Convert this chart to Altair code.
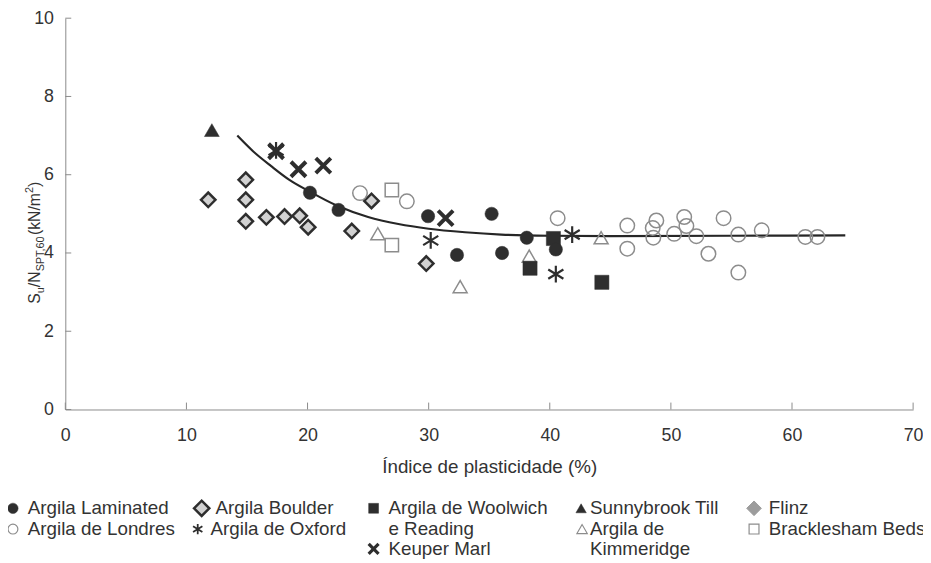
import altair as alt
import pandas as pd

# ---------------- data ----------------
SERIES = ["Argila Laminated", "Argila de Londres", "Argila Boulder", "Argila de Oxford",
          "Argila de Woolwich e Reading", "Keuper Marl", "Sunnybrook Till",
          "Argila de Kimmeridge", "Flinz", "Bracklesham Beds"]

lam_x = [20.2, 22.56, 29.95, 32.34, 35.2, 36.06, 38.1, 40.5]
lam_y = [5.54, 5.10, 4.94, 3.95, 5.00, 4.00, 4.39, 4.09]
lon_x = [24.33, 28.2, 40.65, 46.4, 46.4, 48.5, 48.8, 48.55, 50.27, 51.1, 51.28, 52.1,
         53.1, 54.35, 55.57, 55.57, 57.5, 61.1, 62.1]
lon_y = [5.53, 5.32, 4.89, 4.70, 4.11, 4.64, 4.83, 4.39, 4.49, 4.92, 4.69, 4.43,
         3.98, 4.89, 4.47, 3.50, 4.58, 4.41, 4.41]
bou_x = [11.8, 14.9, 14.9, 14.9, 16.6, 18.1, 19.35, 20.05, 23.65, 25.28, 29.8]
bou_y = [5.36, 5.87, 5.36, 4.81, 4.91, 4.93, 4.95, 4.66, 4.56, 5.33, 3.73]
oxf_x = [17.4, 30.17, 40.5, 41.85]
oxf_y = [6.62, 4.32, 3.46, 4.47]
woo_x = [38.37, 40.3, 44.3]
woo_y = [3.61, 4.37, 3.25]
keu_x = [17.4, 19.25, 21.3, 31.4]
keu_y = [6.60, 6.14, 6.23, 4.89]
sun_x = [12.1]
sun_y = [7.14]
kim_x = [25.8, 32.6, 38.3, 44.24]
kim_y = [4.49, 3.14, 3.92, 4.39]
fli_x = []
fli_y = []
bra_x = [26.96, 26.96]
bra_y = [5.61, 4.20]

trend_x = [14.2, 15.5, 17.0, 18.5, 20.0, 22.5, 25.0, 27.5, 30.0, 33.0, 36.0, 40.0, 45.0, 55.0, 64.4]
trend_y = [7.00, 6.60, 6.22, 5.87, 5.60, 5.20, 4.92, 4.74, 4.62, 4.53, 4.47, 4.44, 4.43, 4.44, 4.45]

XTICKS = [0, 10, 20, 30, 40, 50, 60, 70]
YTICKS = [0, 2, 4, 6, 8, 10]
X_TITLE = "Índice de plasticidade (%)"

SERIES_XY = {
    "Argila Laminated": (lam_x, lam_y),
    "Argila de Londres": (lon_x, lon_y),
    "Argila Boulder": (bou_x, bou_y),
    "Argila de Oxford": (oxf_x, oxf_y),
    "Argila de Woolwich e Reading": (woo_x, woo_y),
    "Keuper Marl": (keu_x, keu_y),
    "Sunnybrook Till": (sun_x, sun_y),
    "Argila de Kimmeridge": (kim_x, kim_y),
    "Flinz": (fli_x, fli_y),
    "Bracklesham Beds": (bra_x, bra_y),
}

# legend text lines per series
LEG_LINES = {
    "Argila Laminated": ["Argila Laminated"],
    "Argila de Londres": ["Argila de Londres"],
    "Argila Boulder": ["Argila Boulder"],
    "Argila de Oxford": ["Argila de Oxford"],
    "Argila de Woolwich e Reading": ["Argila de Woolwich", "e Reading"],
    "Keuper Marl": ["Keuper Marl"],
    "Sunnybrook Till": ["Sunnybrook Till"],
    "Argila de Kimmeridge": ["Argila de", "Kimmeridge"],
    "Flinz": ["Flinz"],
    "Bracklesham Beds": ["Bracklesham Beds"],
}

# ---------------- styles / layout ----------------
FONT = "Liberation Sans"
TXT = "#333333"
AXC = "#8a8a8a"
DARK = "#2e2e2e"
GRAY = "#8c8c8c"
LIGHT = "#d2d2d2"
FLINZ_C = "#9c9c9c"
XPATH = "M-1,-1L1,1M-1,1L1,-1"
ASTER = "M0,-1L0,1M-0.9,-0.55L0.9,0.55M-0.9,0.55L0.9,-0.55"

# shape, filled, fill, stroke, strokeWidth, plot size, legend size, legend strokeWidth
STYLE = {
    "Argila Laminated": ("circle", True, DARK, DARK, 0.5, 182, 110, 0.5),
    "Argila de Londres": ("circle", False, None, GRAY, 1.5, 215, 100, 1.2),
    "Argila Boulder": ("diamond", True, LIGHT, DARK, 2.5, 215, 240, 2.5),
    "Argila de Oxford": (ASTER, False, None, DARK, 2.2, 289, 110, 1.8),
    "Argila de Woolwich e Reading": ("square", True, DARK, DARK, 0.5, 205, 100, 0.5),
    "Keuper Marl": (XPATH, False, None, DARK, 4.0, 230, 100, 3.2),
    "Sunnybrook Till": ("triangle-up", True, DARK, DARK, 0.5, 225, 110, 0.5),
    "Argila de Kimmeridge": ("triangle-up", False, None, GRAY, 1.5, 200, 110, 1.2),
    "Flinz": ("diamond", True, FLINZ_C, FLINZ_C, 1.0, 215, 220, 1.0),
    "Bracklesham Beds": ("square", False, None, GRAY, 1.5, 182, 100, 1.2),
}

PLOT_W, PLOT_H = 858, 396
PAD = {"left": 58, "top": 7, "right": 10, "bottom": 150}
OX, OY = 8 + PAD["left"], 8 + PAD["top"]   # page position of plot origin

LEG_FS = 19
LEG_ROW_Y = [511, 532, 552]  # page y of legend rows
# series: (symbol page x, text page x, first row)
LEG_POS = {
    "Argila Laminated": (13, 28, 0),
    "Argila de Londres": (13, 28, 1),
    "Argila Boulder": (204, 218, 0),
    "Argila de Oxford": (200, 213, 1),
    "Argila de Woolwich e Reading": (378, 393, 0),
    "Keuper Marl": (378, 393, 2),
    "Sunnybrook Till": (588, 597, 0),
    "Argila de Kimmeridge": (589, 597, 1),
    "Flinz": (763, 778, 0),
    "Bracklesham Beds": (763, 778, 1),
}

XSCALE = alt.Scale(domain=[0, 70], nice=False, zero=False)
YSCALE = alt.Scale(domain=[0, 10], nice=False, zero=False)
XAXIS = alt.Axis(values=XTICKS, ticks=False, grid=False, domainColor=AXC, domainWidth=1,
                 labelFont=FONT, labelFontSize=18, labelColor=TXT, labelPadding=17,
                 labelFlush=False, title=X_TITLE, titleFont=FONT, titleFontSize=19,
                 titleFontWeight="normal", titleColor=TXT, titlePadding=14)
YAXIS = alt.Axis(values=YTICKS, ticks=False, grid=False, domainColor=AXC, domainWidth=1,
                 labelFont=FONT, labelFontSize=18, labelColor=TXT, labelPadding=12,
                 labelFlush=False, title=None)


def X(f):
    return alt.X(f"{f}:Q", scale=XSCALE, axis=XAXIS)


def Y(f):
    return alt.Y(f"{f}:Q", scale=YSCALE, axis=YAXIS)


def mark_kwargs(s, legend=False):
    shape, filled, fill, stroke, sw, size, lsize, lsw = STYLE[s]
    kw = dict(shape=shape, filled=filled, stroke=stroke, opacity=1,
              strokeWidth=lsw if legend else sw, size=lsize if legend else size)
    kw["fill"] = fill if filled else "transparent"
    return kw


layers = []

# trend line
trend_df = pd.DataFrame({"x": trend_x, "y": trend_y})
layers.append(alt.Chart(trend_df).mark_line(color="#262626", strokeWidth=2.2, interpolate="monotone")
              .encode(x=X("x"), y=Y("y")))

# inner ticks
layers.append(alt.Chart(pd.DataFrame({"t": XTICKS})).mark_rule(color=AXC, strokeWidth=1)
              .encode(x=X("t"), y=alt.value(PLOT_H), y2=alt.value(PLOT_H - 7)))
layers.append(alt.Chart(pd.DataFrame({"t": YTICKS})).mark_rule(color=AXC, strokeWidth=1)
              .encode(y=Y("t"), x=alt.value(0), x2=alt.value(6)))

# data points
draw_order = ["Argila Boulder", "Argila de Londres", "Argila de Kimmeridge", "Bracklesham Beds",
              "Argila de Oxford", "Keuper Marl", "Argila de Woolwich e Reading",
              "Argila Laminated", "Sunnybrook Till", "Flinz"]
for s in draw_order:
    xs, ys = SERIES_XY[s]
    if not xs:
        continue
    d = pd.DataFrame({"x": xs, "y": ys, "series": s})
    layers.append(alt.Chart(d).mark_point(**mark_kwargs(s)).encode(x=X("x"), y=Y("y")))

# custom legend
one = alt.Data(values=[{"k": 1}])
for s in SERIES:
    sx, tx, r0 = LEG_POS[s]
    layers.append(alt.Chart(one).mark_point(**mark_kwargs(s, legend=True))
                  .encode(x=alt.value(sx - OX), y=alt.value(LEG_ROW_Y[r0] - OY)))
    for i, line in enumerate(LEG_LINES[s]):
        layers.append(alt.Chart(one).mark_text(text=line, align="left", baseline="middle",
                                               font=FONT, fontSize=LEG_FS, color=TXT)
                      .encode(x=alt.value(tx - OX), y=alt.value(LEG_ROW_Y[r0 + i] - OY)))

# y-axis title with subscripts / superscript
CW = {"S": .667, "u": .556, "/": .278, "N": .722, "P": .667, "T": .611, ",": .278,
      "6": .556, "0": .556, "(": .333, "k": .5, "m": .833, "2": .556, ")": .333}


def tw(s, fs):
    return sum(CW.get(c, .556) for c in s) * fs


YT_PIECES = [("S", 16, 0), ("u", 11, 4), ("/N", 16, 0), ("SPT,60", 11, 4),
             ("(kN/m", 16, 0), ("2", 11, -7), (")", 16, 0)]
yt_base_x = 40 - OX
yt_start = 304 - OY
off = 0.0
for txt, fs, shift in YT_PIECES:
    layers.append(alt.Chart(one).mark_text(text=txt, angle=270, align="left", baseline="alphabetic",
                                           font=FONT, fontSize=fs, color=TXT)
                  .encode(x=alt.value(yt_base_x + shift), y=alt.value(yt_start - off)))
    off += tw(txt, fs)

chart = alt.layer(*layers).properties(
    width=PLOT_W, height=PLOT_H,
    autosize=alt.AutoSizeParams(type="none"),
    padding=PAD,
).configure_view(stroke=None)

chart.save("out.html", embed_options={"renderer": "svg", "actions": False})
